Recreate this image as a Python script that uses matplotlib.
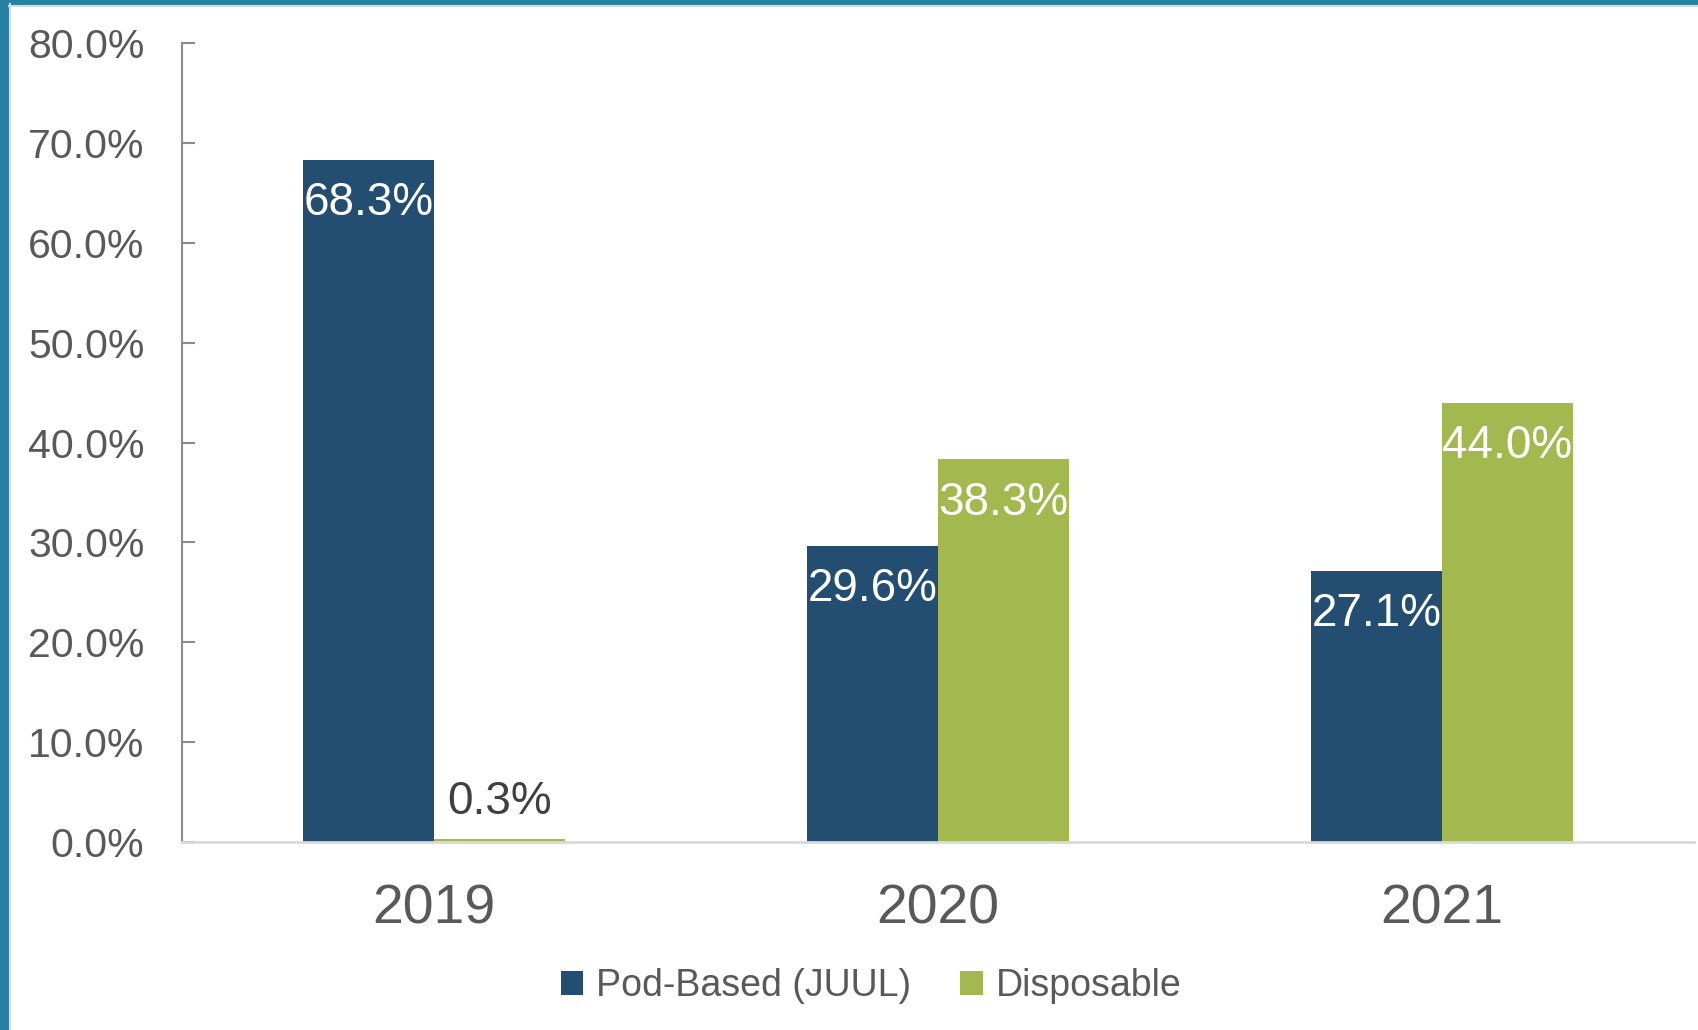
import matplotlib
matplotlib.use("Agg")
import matplotlib.pyplot as plt
from matplotlib.patches import Rectangle
from matplotlib.lines import Line2D
import numpy as np

plt.rcParams['font.family'] = ['Liberation Sans', 'DejaVu Sans']

years = ["2019", "2020", "2021"]
series_names = ["Pod-Based (JUUL)", "Disposable"]
pod_based = [68.3, 29.6, 27.1]
disposable = [0.3, 38.3, 44.0]
yticks = [0, 10, 20, 30, 40, 50, 60, 70, 80]

NAVY = "#234E72"
GREEN = "#A3B94F"
GRAY_TEXT = "#595959"
TEAL = "#2781A2"

W, H = 1698, 1030
fig = plt.figure(figsize=(W / 100, H / 100), dpi=100)
fig.patch.set_facecolor("white")

# frame decoration
fig.patches.append(Rectangle((0, 0), 9 / W, 1, transform=fig.transFigure, color=TEAL, zorder=0))
fig.patches.append(Rectangle((0, 1 - 4 / H), 1, 4 / H, transform=fig.transFigure, color=TEAL, zorder=0))
fig.lines.append(Line2D([9.5 / W, 9.5 / W], [0, 1 - 4 / H], transform=fig.transFigure, color="#d9d9d9", lw=1.5))
fig.lines.append(Line2D([9 / W, 1], [1 - 5.5 / H, 1 - 5.5 / H], transform=fig.transFigure, color="#d9d9d9", lw=1.5))

ax = fig.add_axes([182 / W, 1 - 842 / H, (1694 - 182) / W, (842 - 43) / H])
x = np.arange(len(years))
bw = 0.26
b1 = ax.bar(x - bw / 2, pod_based, bw, color=NAVY, label=series_names[0], zorder=2)
b2 = ax.bar(x + bw / 2, disposable, bw, color=GREEN, label=series_names[1], zorder=2)

ax.set_xlim(-0.5, 2.5)
ax.set_ylim(0, 80)
ax.set_yticks(yticks)
ax.set_yticklabels([f"{v:.1f}%" for v in yticks])
ax.set_xticks(x)
ax.set_xticklabels(years)

for s in ["top", "right"]:
    ax.spines[s].set_visible(False)
ax.spines["left"].set_color("#8c8c8c")
ax.spines["left"].set_linewidth(1.5)
ax.spines["bottom"].set_color("#d9d9d9")
ax.spines["bottom"].set_linewidth(2)

ax.tick_params(axis="y", direction="in", length=9, width=1.5, color="#8c8c8c",
               pad=27, labelsize=29.5, labelcolor=GRAY_TEXT)
ax.tick_params(axis="x", length=0, pad=30, labelsize=40, labelcolor=GRAY_TEXT)

def label(bars, vals):
    for rect, v in zip(bars, vals):
        cx = rect.get_x() + rect.get_width() / 2
        top = rect.get_height()
        if v >= 5:
            ax.annotate(f"{v:.1f}%", (cx, top), xytext=(0, -31), textcoords="offset points",
                        ha="center", va="center", color="white", fontsize=33, zorder=3)
        else:
            ax.annotate(f"{v:.1f}%", (cx, top), xytext=(0, 27), textcoords="offset points",
                        ha="center", va="center", color="#404040", fontsize=33, zorder=3)

label(b1, pod_based)
label(b2, disposable)

fig.legend(handles=[b1, b2], labels=series_names, loc="center", bbox_to_anchor=(0.513, 1 - 986 / H),
           ncol=2, frameon=False, fontsize=27, labelcolor=GRAY_TEXT, handlelength=0.6,
           handleheight=0.6, handletextpad=0.35, columnspacing=1.3)

fig.savefig("out.png", dpi=100, facecolor="white")
